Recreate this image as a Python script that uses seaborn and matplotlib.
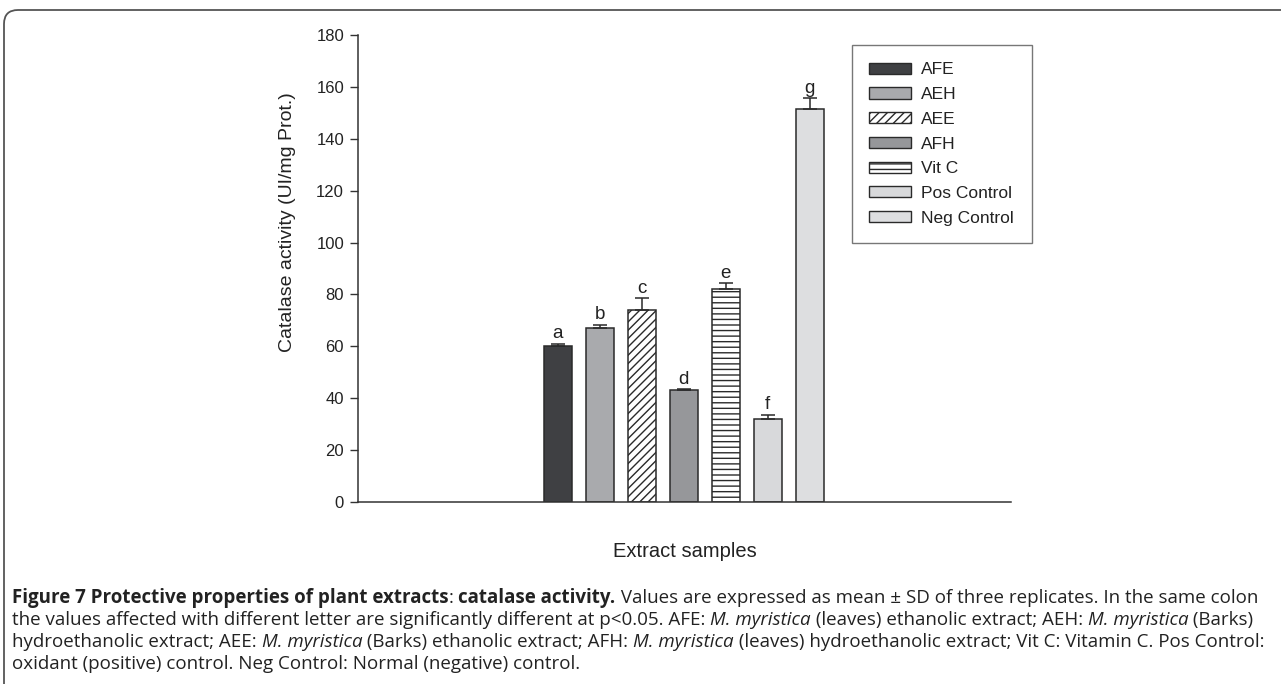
import matplotlib
matplotlib.use("Agg")
import matplotlib.pyplot as plt
import seaborn as sns
import pandas as pd
import numpy as np
from matplotlib.patches import Patch, FancyBboxPatch

# ---------------- data ----------------
categories = ["AFE", "AEH", "AEE", "AFH", "Vit C", "Pos Control", "Neg Control"]
values = [60.0, 67.0, 74.0, 43.0, 82.0, 32.0, 151.5]
errors = [1.0, 1.3, 4.5, 0.4, 2.3, 1.7, 4.2]
letters = ["a", "b", "c", "d", "e", "f", "g"]
colors = ["#3f4043", "#a9aaad", "#ffffff", "#96979a", "#ffffff", "#d8d9db", "#dddee0"]
hatches = ["", "", "////", "", "---", "", ""]
yticks = [0, 20, 40, 60, 80, 100, 120, 140, 160, 180]

W, H = 1281, 684
sns.set_theme(style="white")
plt.rcParams["font.family"] = ["Liberation Sans", "DejaVu Sans"]
plt.rcParams["hatch.linewidth"] = 1.0

fig = plt.figure(figsize=(W / 100, H / 100), dpi=100)
ax = fig.add_axes([358 / W, 1 - 502 / H, 653 / W, 467 / H])

df = pd.DataFrame({"cat": categories, "val": values})
sns.barplot(data=df, x="cat", y="val", hue="cat", palette=colors, order=categories,
            hue_order=categories, width=0.67, dodge=False, legend=False,
            edgecolor="#2a2a2a", linewidth=1.1, saturation=1, ax=ax, errorbar=None)

for patch, h in zip(ax.patches, hatches):
    if h:
        patch.set_hatch(h)

x = np.arange(len(categories))
ax.errorbar(x, values, yerr=[np.zeros(len(errors)), errors], fmt="none",
            ecolor="#2a2a2a", elinewidth=1.1, capsize=5, capthick=1.1)
for xi, v, e, l in zip(x, values, errors, letters):
    ax.annotate(l, (xi, v + e), xytext=(0, 1), textcoords="offset points",
                ha="center", va="bottom", fontsize=13.5, color="#222222")

ax.set_xlim(-4.76, 10.79)
ax.set_ylim(0, 180)
ax.set_yticks(yticks)
ax.set_xticks([])
ax.tick_params(axis="y", direction="out", length=6, width=1, color="#333333",
               labelsize=12, labelcolor="#222222", left=True, pad=4)
for s in ["top", "right"]:
    ax.spines[s].set_visible(False)
for s in ["left", "bottom"]:
    ax.spines[s].set_color("#333333")
    ax.spines[s].set_linewidth(1.1)
ax.set_ylabel("Catalase activity (UI/mg Prot.)", fontsize=14, color="#222222")
ax.yaxis.set_label_coords(-0.095, 0.60)
ax.set_xlabel("Extract samples", fontsize=14.5, color="#222222", labelpad=29)

handles = [Patch(facecolor=c, edgecolor="#2a2a2a", hatch=h, linewidth=1.0)
           for c, h in zip(colors, hatches)]
leg = fig.legend(handles, categories, loc="upper left",
                 bbox_to_anchor=(852 / W, 1 - 45 / H), fontsize=12.5,
                 frameon=True, fancybox=False, handlelength=2.4, handleheight=0.62,
                 labelspacing=0.56, borderpad=1.0, handletextpad=0.6, borderaxespad=0)
leg.get_frame().set_edgecolor("#555555")
leg.get_frame().set_linewidth(1.0)
for t in leg.get_texts():
    t.set_color("#222222")

# outer frame
frame = FancyBboxPatch((4, -60), 1500, H - 10 + 60, boxstyle="round,pad=0,rounding_size=14",
                       transform=None, facecolor="none", edgecolor="#555555", linewidth=1.3)
fig.add_artist(frame)

# caption
cap_font = ["Open Sans", "DejaVu Sans"]
renderer = fig.canvas.get_renderer()
N, B, I = "normal", "bold", "italic"
lines = [
    [("Figure 7 Protective properties of plant extracts", B, N), (": ", N, N),
     ("catalase activity.", B, N),
     (" Values are expressed as mean \u00b1 SD of three replicates. In the same colon", N, N)],
    [("the values affected with different letter are significantly different at p<0.05. AFE: ", N, N),
     ("M. myristica", N, I), (" (leaves) ethanolic extract; AEH: ", N, N), ("M. myristica", N, I),
     (" (Barks)", N, N)],
    [("hydroethanolic extract; AEE: ", N, N), ("M. myristica", N, I),
     (" (Barks) ethanolic extract; AFH: ", N, N), ("M. myristica", N, I),
     (" (leaves) hydroethanolic extract; Vit C: Vitamin C. Pos Control:", N, N)],
    [("oxidant (positive) control. Neg Control: Normal (negative) control.", N, N)],
]

def measure(pieces, size):
    tot = 0
    for txt, weight, style in pieces:
        t = fig.text(0, 0, txt, fontsize=size, fontweight=weight, fontstyle=style, family=cap_font)
        tot += t.get_window_extent(renderer).width
        t.remove()
    return tot

base = 10.0
w0 = measure(lines[0], base)
cap_size = base * 1250.0 / w0

def rich_line(x_px, y_px, pieces):
    xx = x_px
    for txt, weight, style in pieces:
        t = fig.text(xx / W, 1 - y_px / H, txt, fontsize=cap_size, fontweight=weight,
                     fontstyle=style, family=cap_font, va="baseline",
                     ha="left", color="#222222")
        xx += t.get_window_extent(renderer).width

for i, ln in enumerate(lines):
    rich_line(12, 603 + 22 * i, ln)

fig.savefig("out.png", dpi=100)
